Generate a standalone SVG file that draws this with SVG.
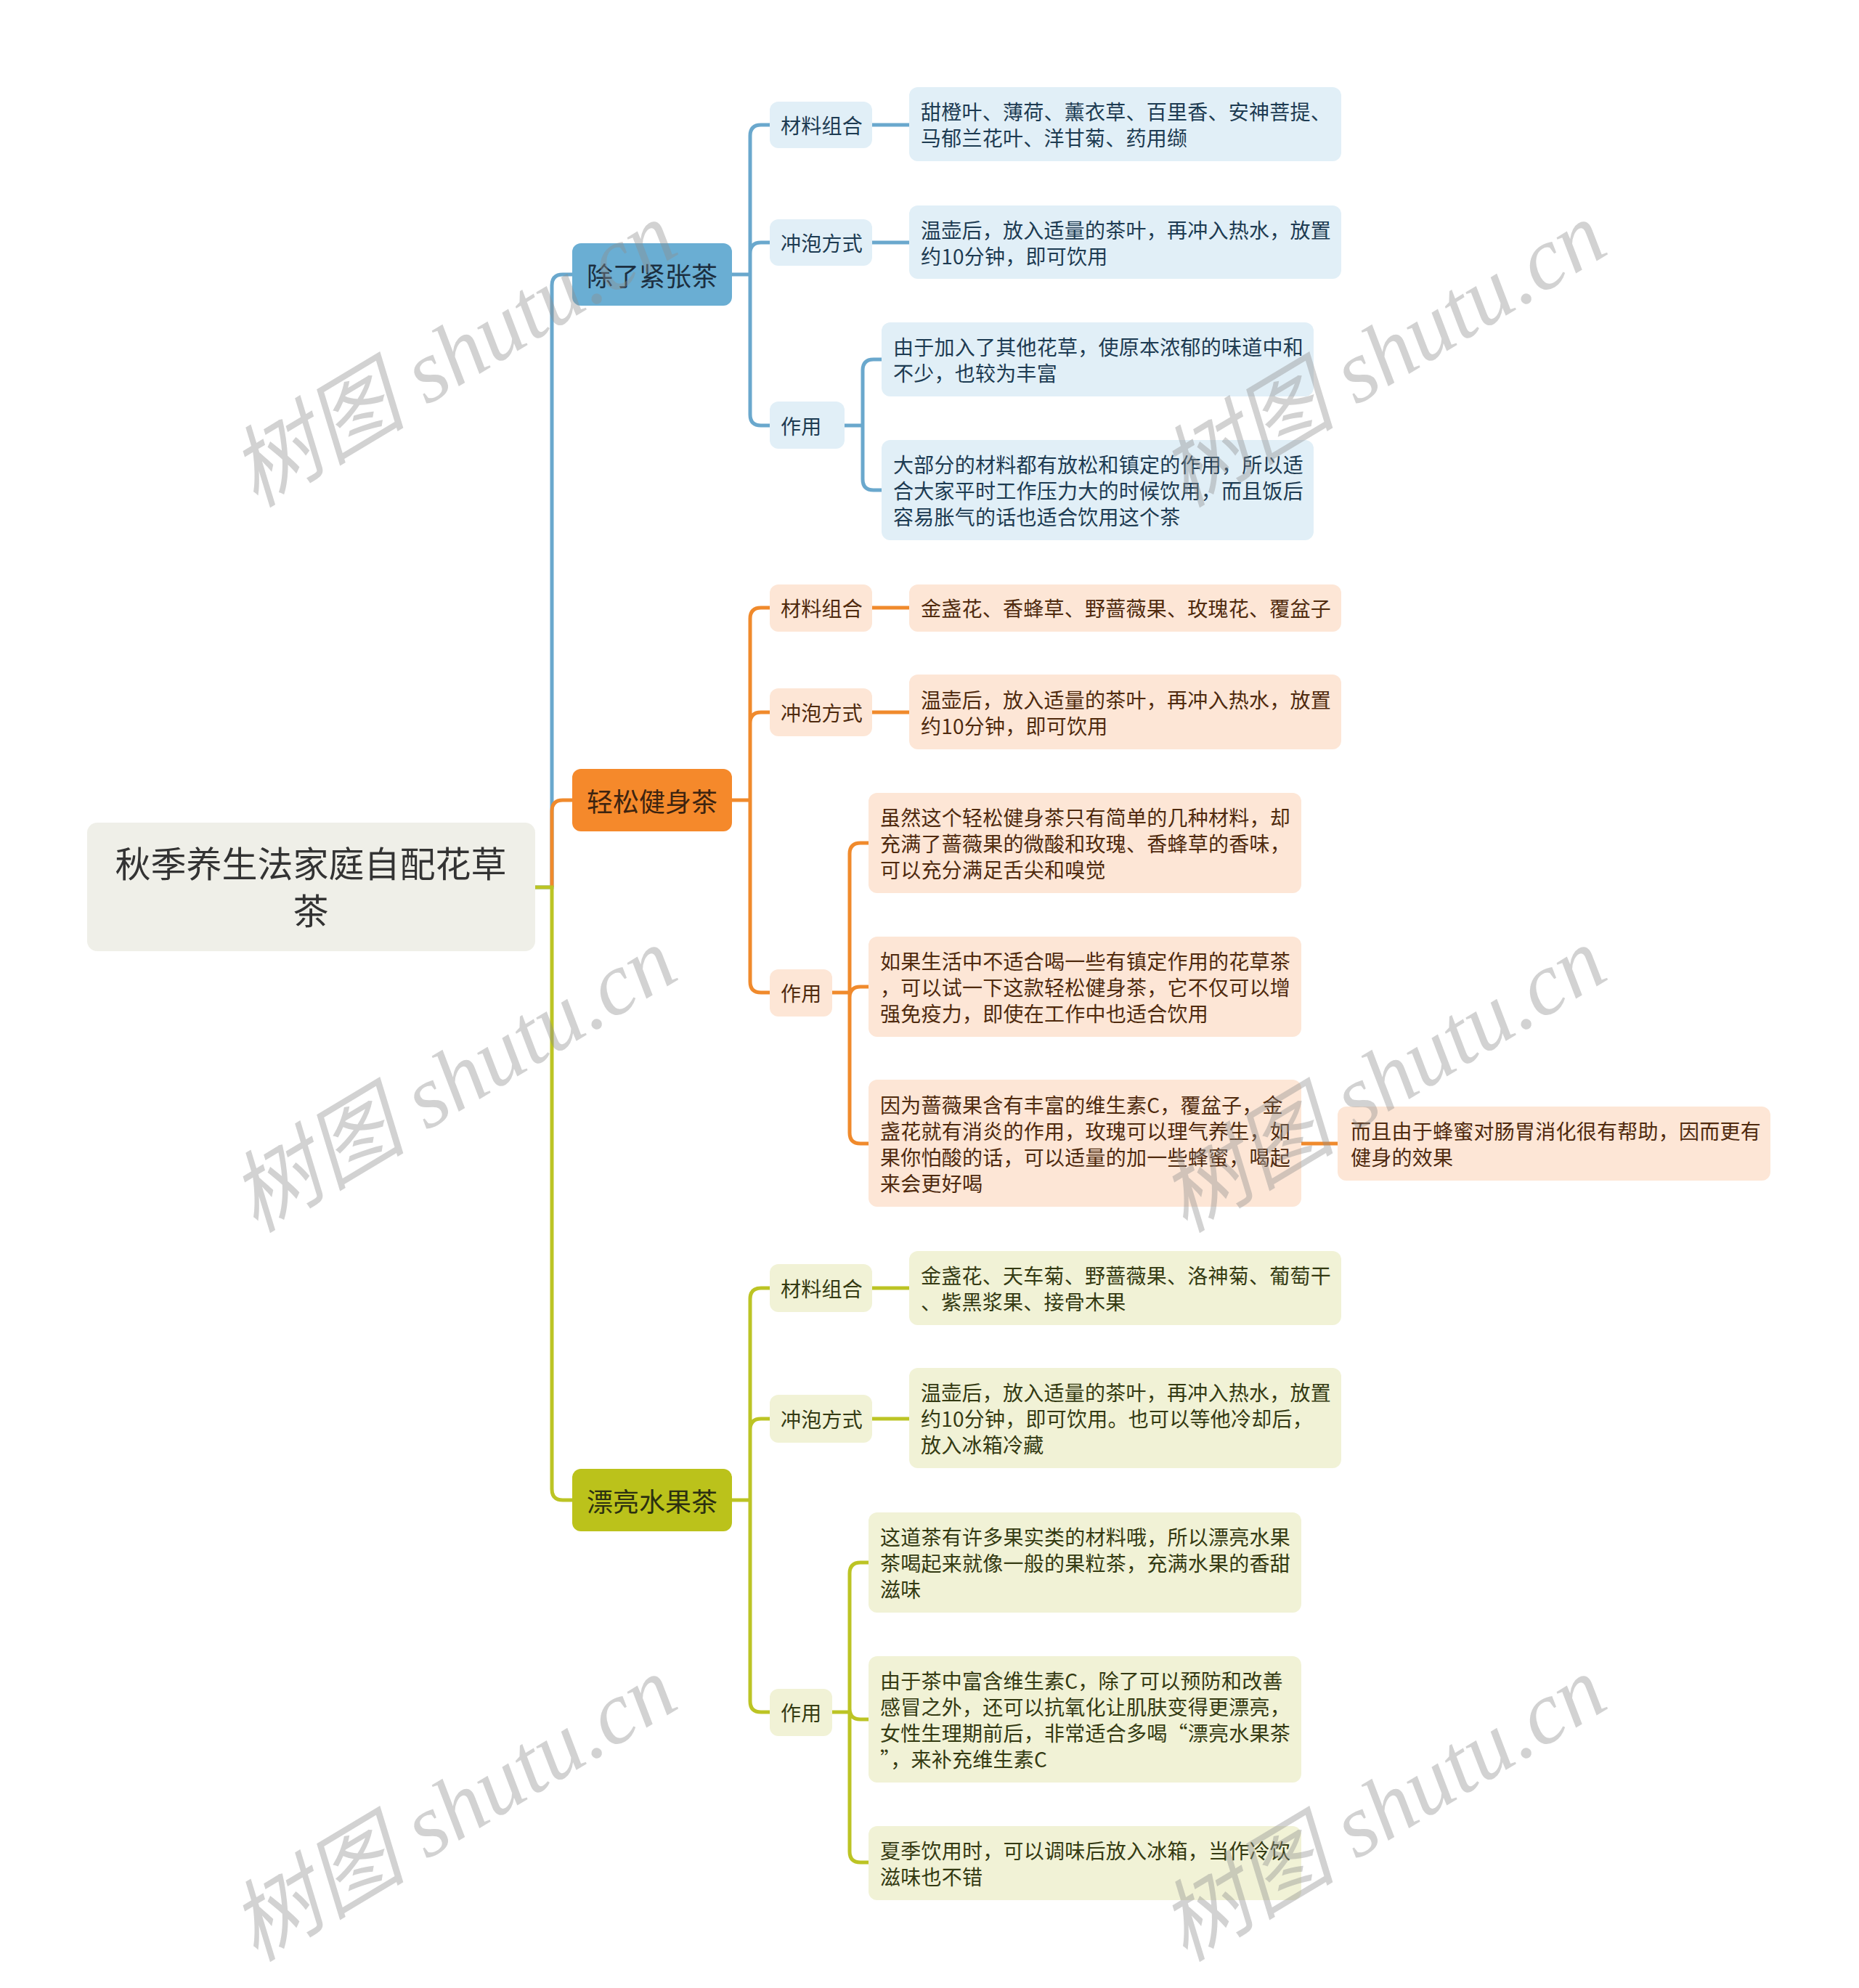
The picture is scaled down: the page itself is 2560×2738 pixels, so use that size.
<svg xmlns="http://www.w3.org/2000/svg" width="2560" height="2738" viewBox="0 0 2560 2738">
<style>
text{font-family:"Noto Sans CJK SC","Noto Sans",sans-serif;}
.t{font-size:28px;letter-spacing:0.25px;dominant-baseline:central;}
.tb{fill:#1d3b52;}
.to{fill:#4f2a0e;}
.tg{fill:#343a12;}
.br{font-size:36px;dominant-baseline:central;text-anchor:middle;}
.lb{stroke:#6aa8cd;stroke-width:5;fill:none;}
.lo{stroke:#f08a2c;stroke-width:5;fill:none;}
.lg{stroke:#bcc424;stroke-width:5;fill:none;}
.bb{fill:#e1eff7;}
.bo{fill:#fde6d6;}
.bg{fill:#f1f2d6;}
.wm{font-family:"Liberation Serif","Noto Sans CJK SC",serif;font-style:italic;font-size:122px;fill:#8f8f8f;fill-opacity:0.4;}
</style>
<rect width="2560" height="2738" fill="#ffffff"/>
<g id="connectors">
<path class="lb" d="M737 1222 H760 V393 Q760 378 775 378 H788"/>
<path class="lo" d="M760 1222 V1117 Q760 1102 775 1102 H788"/>
<path class="lg" d="M737 1222 H760 V2051 Q760 2066 775 2066 H788"/>
<path class="lb" d="M1008 378 H1033 M1033 378 V187 Q1033 172 1048 172 H1060 M1033 378 V349 Q1033 334 1048 334 H1060 M1033 378 V571 Q1033 586 1048 586 H1060"/>
<path class="lb" d="M1201 172 H1252 M1201 334 H1252"/>
<path class="lb" d="M1163 586 H1188 M1188 586 V510 Q1188 495 1203 495 H1214 M1188 586 V660 Q1188 675 1203 675 H1214"/>
<path class="lo" d="M1008 1102 H1033 M1033 1102 V852 Q1033 837 1048 837 H1060 M1033 1102 V996 Q1033 981 1048 981 H1060 M1033 1102 V1352 Q1033 1367 1048 1367 H1060"/>
<path class="lo" d="M1201 837 H1252 M1201 981 H1252"/>
<path class="lo" d="M1146 1367 H1170 M1170 1367 V1176 Q1170 1161 1185 1161 H1196 M1170 1367 V1374 Q1170 1359 1185 1359 H1196 M1170 1367 V1560 Q1170 1575 1185 1575 H1196"/>
<path class="lo" d="M1792 1575 H1842"/>
<path class="lg" d="M1008 2066 H1033 M1033 2066 V1789 Q1033 1774 1048 1774 H1060 M1033 2066 V1969 Q1033 1954 1048 1954 H1060 M1033 2066 V2343 Q1033 2358 1048 2358 H1060"/>
<path class="lg" d="M1201 1774 H1252 M1201 1954 H1252"/>
<path class="lg" d="M1146 2358 H1170 M1170 2358 V2167 Q1170 2152 1185 2152 H1196 M1170 2358 V2353 Q1170 2368 1185 2368 H1196 M1170 2358 V2550 Q1170 2565 1185 2565 H1196"/>
</g>
<g id="root">
<rect x="120" y="1133" width="617" height="177" rx="14" fill="#efefe8"/>
<text x="428" y="1186" font-size="49" fill="#333333" text-anchor="middle" dominant-baseline="central">秋季养生法家庭自配花草</text>
<text x="428" y="1251" font-size="49" fill="#333333" text-anchor="middle" dominant-baseline="central">茶</text>
</g>
<g id="b1">
<rect x="788" y="335" width="220" height="86" rx="12" fill="#6aaed3"/>
<text class="br" x="898" y="378" fill="#1c2f40">除了紧张茶</text>
</g>
<g id="b1-cl">
<rect class="bb" x="1060" y="140" width="141" height="64" rx="12"/>
<text class="t tb" x="1075" y="172">材料组合</text>
</g>
<g id="b1-cl-t">
<rect class="bb" x="1252" y="120" width="595" height="102" rx="12"/>
<text class="t tb" x="1268" y="153">甜橙叶、薄荷、薰衣草、百里香、安神菩提、</text>
<text class="t tb" x="1268" y="189">马郁兰花叶、洋甘菊、药用缬</text>
</g>
<g id="b1-cp">
<rect class="bb" x="1060" y="302" width="141" height="64" rx="12"/>
<text class="t tb" x="1075" y="334">冲泡方式</text>
</g>
<g id="b1-cp-t">
<rect class="bb" x="1252" y="283" width="595" height="101" rx="12"/>
<text class="t tb" x="1268" y="316">温壶后，放入适量的茶叶，再冲入热水，放置</text>
<text class="t tb" x="1268" y="352">约10分钟，即可饮用</text>
</g>
<g id="b1-zy">
<rect class="bb" x="1060" y="553" width="103" height="65" rx="12"/>
<text class="t tb" x="1075" y="586">作用</text>
</g>
<g id="b1-zy-1">
<rect class="bb" x="1214" y="444" width="595" height="102" rx="12"/>
<text class="t tb" x="1230" y="477">由于加入了其他花草，使原本浓郁的味道中和</text>
<text class="t tb" x="1230" y="513">不少，也较为丰富</text>
</g>
<g id="b1-zy-2">
<rect class="bb" x="1214" y="606" width="595" height="138" rx="12"/>
<text class="t tb" x="1230" y="639">大部分的材料都有放松和镇定的作用，所以适</text>
<text class="t tb" x="1230" y="675">合大家平时工作压力大的时候饮用，而且饭后</text>
<text class="t tb" x="1230" y="711">容易胀气的话也适合饮用这个茶</text>
</g>
<g id="b2">
<rect x="788" y="1059" width="220" height="86" rx="12" fill="#f5892b"/>
<text class="br" x="898" y="1102" fill="#3d2410">轻松健身茶</text>
</g>
<g id="b2-cl">
<rect class="bo" x="1060" y="805" width="141" height="65" rx="12"/>
<text class="t to" x="1075" y="837">材料组合</text>
</g>
<g id="b2-cl-t">
<rect class="bo" x="1252" y="805" width="595" height="65" rx="12"/>
<text class="t to" x="1268" y="837">金盏花、香蜂草、野蔷薇果、玫瑰花、覆盆子</text>
</g>
<g id="b2-cp">
<rect class="bo" x="1060" y="948" width="141" height="66" rx="12"/>
<text class="t to" x="1075" y="981">冲泡方式</text>
</g>
<g id="b2-cp-t">
<rect class="bo" x="1252" y="929" width="595" height="103" rx="12"/>
<text class="t to" x="1268" y="963">温壶后，放入适量的茶叶，再冲入热水，放置</text>
<text class="t to" x="1268" y="999">约10分钟，即可饮用</text>
</g>
<g id="b2-zy">
<rect class="bo" x="1060" y="1335" width="86" height="65" rx="12"/>
<text class="t to" x="1075" y="1367">作用</text>
</g>
<g id="b2-zy-1">
<rect class="bo" x="1196" y="1092" width="596" height="138" rx="12"/>
<text class="t to" x="1212" y="1125">虽然这个轻松健身茶只有简单的几种材料，却</text>
<text class="t to" x="1212" y="1161">充满了蔷薇果的微酸和玫瑰、香蜂草的香味，</text>
<text class="t to" x="1212" y="1197">可以充分满足舌尖和嗅觉</text>
</g>
<g id="b2-zy-2">
<rect class="bo" x="1196" y="1290" width="596" height="138" rx="12"/>
<text class="t to" x="1212" y="1323">如果生活中不适合喝一些有镇定作用的花草茶</text>
<text class="t to" x="1212" y="1359">，可以试一下这款轻松健身茶，它不仅可以增</text>
<text class="t to" x="1212" y="1395">强免疫力，即使在工作中也适合饮用</text>
</g>
<g id="b2-zy-3">
<rect class="bo" x="1196" y="1487" width="596" height="175" rx="12"/>
<text class="t to" x="1212" y="1521">因为蔷薇果含有丰富的维生素C，覆盆子，金</text>
<text class="t to" x="1212" y="1557">盏花就有消炎的作用，玫瑰可以理气养生，如</text>
<text class="t to" x="1212" y="1593">果你怕酸的话，可以适量的加一些蜂蜜，喝起</text>
<text class="t to" x="1212" y="1629">来会更好喝</text>
</g>
<g id="b2-zy-3-1">
<rect class="bo" x="1842" y="1524" width="596" height="102" rx="12"/>
<text class="t to" x="1860" y="1557">而且由于蜂蜜对肠胃消化很有帮助，因而更有</text>
<text class="t to" x="1860" y="1593">健身的效果</text>
</g>
<g id="b3">
<rect x="788" y="2023" width="220" height="86" rx="12" fill="#bbc21b"/>
<text class="br" x="898" y="2066" fill="#2c3010">漂亮水果茶</text>
</g>
<g id="b3-cl">
<rect class="bg" x="1060" y="1741" width="141" height="66" rx="12"/>
<text class="t tg" x="1075" y="1774">材料组合</text>
</g>
<g id="b3-cl-t">
<rect class="bg" x="1252" y="1723" width="595" height="102" rx="12"/>
<text class="t tg" x="1268" y="1756">金盏花、天车菊、野蔷薇果、洛神菊、葡萄干</text>
<text class="t tg" x="1268" y="1792">、紫黑浆果、接骨木果</text>
</g>
<g id="b3-cp">
<rect class="bg" x="1060" y="1921" width="141" height="66" rx="12"/>
<text class="t tg" x="1075" y="1954">冲泡方式</text>
</g>
<g id="b3-cp-t">
<rect class="bg" x="1252" y="1884" width="595" height="138" rx="12"/>
<text class="t tg" x="1268" y="1917">温壶后，放入适量的茶叶，再冲入热水，放置</text>
<text class="t tg" x="1268" y="1953">约10分钟，即可饮用。也可以等他冷却后，</text>
<text class="t tg" x="1268" y="1989">放入冰箱冷藏</text>
</g>
<g id="b3-zy">
<rect class="bg" x="1060" y="2326" width="86" height="65" rx="12"/>
<text class="t tg" x="1075" y="2358">作用</text>
</g>
<g id="b3-zy-1">
<rect class="bg" x="1196" y="2083" width="596" height="138" rx="12"/>
<text class="t tg" x="1212" y="2116">这道茶有许多果实类的材料哦，所以漂亮水果</text>
<text class="t tg" x="1212" y="2152">茶喝起来就像一般的果粒茶，充满水果的香甜</text>
<text class="t tg" x="1212" y="2188">滋味</text>
</g>
<g id="b3-zy-2">
<rect class="bg" x="1196" y="2281" width="596" height="174" rx="12"/>
<text class="t tg" x="1212" y="2314">由于茶中富含维生素C，除了可以预防和改善</text>
<text class="t tg" x="1212" y="2350">感冒之外，还可以抗氧化让肌肤变得更漂亮，</text>
<text class="t tg" x="1212" y="2386">女性生理期前后，非常适合多喝“漂亮水果茶</text>
<text class="t tg" x="1212" y="2422">”，来补充维生素C</text>
</g>
<g id="b3-zy-3">
<rect class="bg" x="1196" y="2515" width="596" height="102" rx="12"/>
<text class="t tg" x="1212" y="2548">夏季饮用时，可以调味后放入冰箱，当作冷饮</text>
<text class="t tg" x="1212" y="2584">滋味也不错</text>
</g>
<g id="watermarks">
<text class="wm" x="352" y="700" transform="rotate(-31 352 700)">树图 shutu.cn</text>
<text class="wm" x="1632" y="700" transform="rotate(-31 1632 700)">树图 shutu.cn</text>
<text class="wm" x="352" y="1699" transform="rotate(-31 352 1699)">树图 shutu.cn</text>
<text class="wm" x="1632" y="1699" transform="rotate(-31 1632 1699)">树图 shutu.cn</text>
<text class="wm" x="352" y="2703" transform="rotate(-31 352 2703)">树图 shutu.cn</text>
<text class="wm" x="1632" y="2703" transform="rotate(-31 1632 2703)">树图 shutu.cn</text>
</g>
</svg>
